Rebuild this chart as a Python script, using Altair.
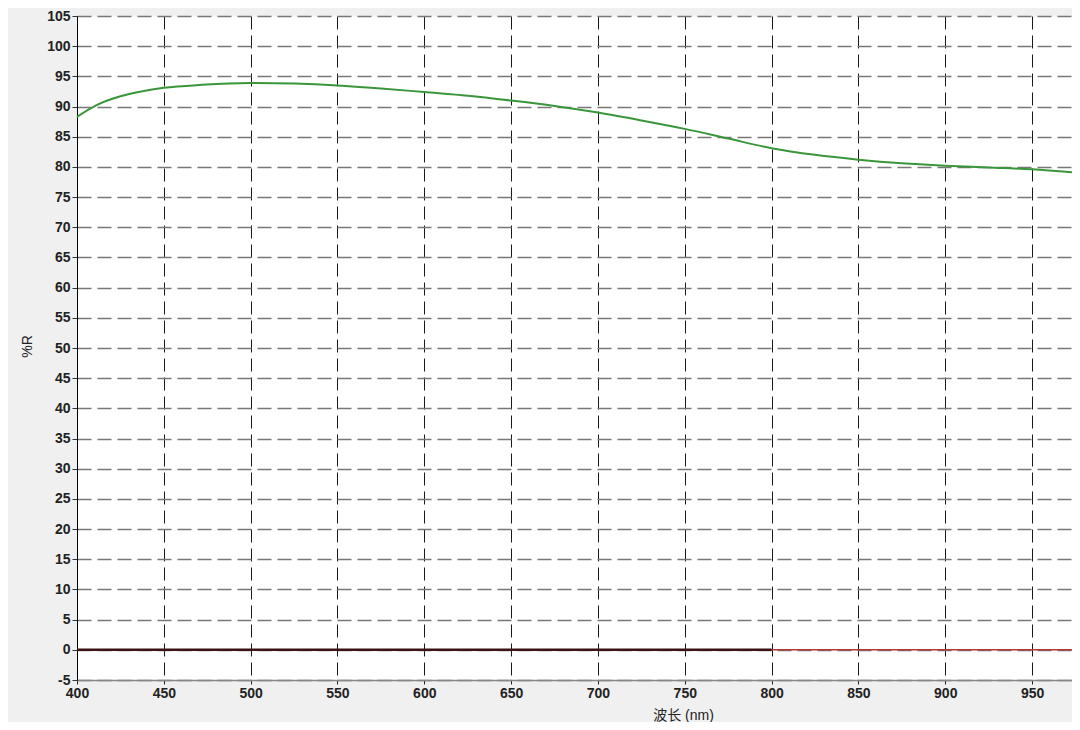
import altair as alt
import pandas as pd

# Green reflectance curve
wavelength = [400, 411, 425, 437, 450, 472, 500, 525, 550, 575, 600, 625, 650, 675,
              700, 725, 750, 775, 800, 825, 850, 875, 900, 925, 950, 973]
reflectance = [88.3, 90.2, 91.7, 92.5, 93.1, 93.6, 93.9, 93.8, 93.5, 93.0, 92.4, 91.8, 91.0, 90.1,
               89.0, 87.7, 86.3, 84.7, 83.1, 82.0, 81.2, 80.6, 80.2, 79.9, 79.6, 79.1]

# Baseline traces at 0 %R
dark_wl = [400, 800]
dark_r = [0, 0]
red_wl = [400, 973]
red_r = [0, 0]

x_ticks = [400, 450, 500, 550, 600, 650, 700, 750, 800, 850, 900, 950]
y_ticks = list(range(-5, 106, 5))

FONT = "Liberation Sans, Arial, Noto Sans CJK SC"

df_g = pd.DataFrame({"wl": wavelength, "r": reflectance})
df_d = pd.DataFrame({"wl": dark_wl, "r": dark_r})
df_r = pd.DataFrame({"wl": red_wl, "r": red_r})

x_enc = alt.X(
    "wl:Q",
    scale=alt.Scale(domain=[400, 973], nice=False, zero=False),
    axis=alt.Axis(
        values=x_ticks, title="波长 (nm)", grid=True, gridColor="#000000",
        gridDash=[13, 6], gridWidth=1, gridOpacity=0.9,
        domainColor="#888888", domainWidth=1.5, tickColor="#222222", tickSize=4,
        labelFont=FONT, labelFontSize=14, labelFontWeight="bold", labelColor="#222222",
        labelPadding=2, labelFlush=False, labelExpr="'' + datum.value",
        titleFont=FONT, titleFontSize=14, titleFontWeight="normal", titleColor="#222222",
        titleX=606, titleY=35, titleBaseline="middle", titleAlign="center",
    ),
)
y_enc = alt.Y(
    "r:Q",
    scale=alt.Scale(domain=[-5, 105], nice=False, zero=False),
    axis=alt.Axis(
        values=y_ticks, title="%R", grid=True, gridColor="#777777",
        gridDash=[14, 6], gridWidth=1.5,
        domainColor="#000000", domainWidth=1, tickColor="#333333", tickSize=5,
        labelFont=FONT, labelFontSize=14, labelFontWeight="bold", labelColor="#222222",
        labelPadding=2, labelFlush=False, labelExpr="'' + datum.value",
        titleFont=FONT, titleFontSize=14, titleFontWeight="normal", titleColor="#222222",
        titleX=-50, titleY=330, titleAngle=-90, titleAlign="center", titleBaseline="middle",
    ),
)

green = alt.Chart(df_g).mark_line(color="#3a963a", strokeWidth=2, interpolate="monotone").encode(x=x_enc, y=y_enc)
red = alt.Chart(df_r).mark_line(color="#b03a36", strokeWidth=1.5).encode(x=x_enc, y=y_enc)
dark = alt.Chart(df_d).mark_line(color="#3a1414", strokeWidth=2.5).encode(x=x_enc, y=y_enc)

chart = alt.layer(red, dark, green).properties(
    width=995, height=664,
    autosize=alt.AutoSizeParams(type="none"),
    padding={"left": 69, "top": 8, "right": 0, "bottom": 42},
    background="#f0f0f0",
).configure_view(fill="white", stroke="transparent")

chart.save("out.html", embed_options={"renderer": "svg", "actions": False})
